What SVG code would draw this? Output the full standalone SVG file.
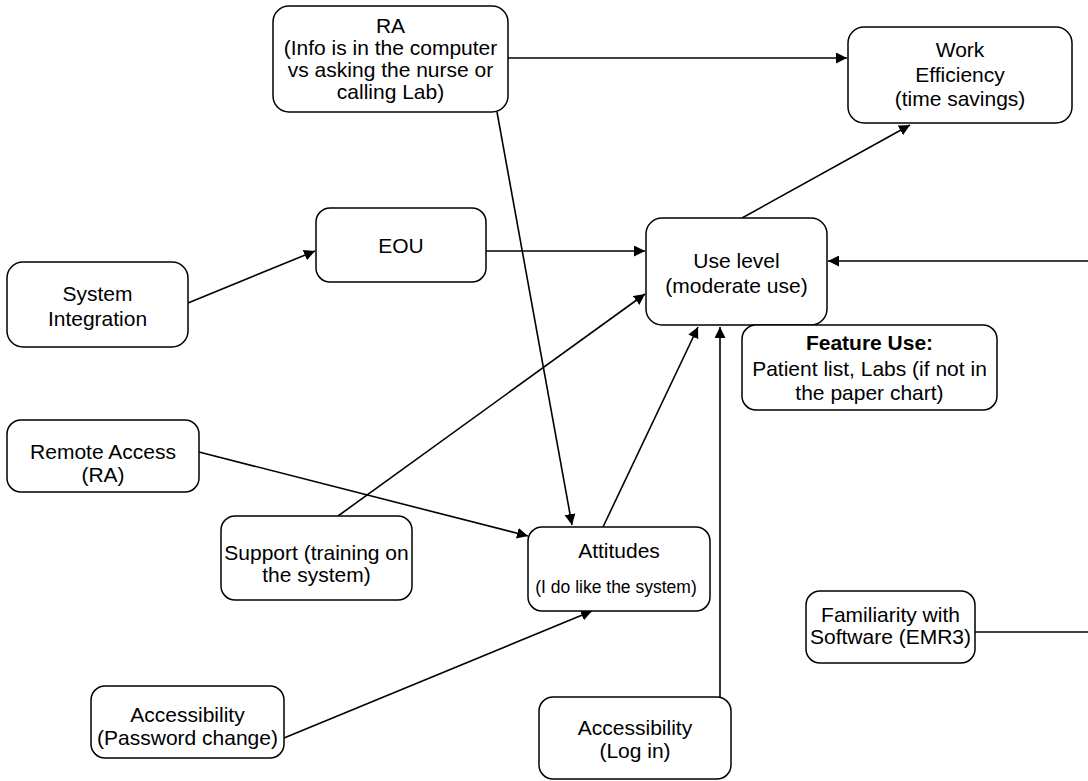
<svg xmlns="http://www.w3.org/2000/svg" width="1088" height="781" viewBox="0 0 1088 781">
<style>
  .box { fill: #ffffff; stroke: #000000; stroke-width: 1.5; }
  .t { font-family: "Liberation Sans", Arial, sans-serif; font-size: 21px; fill: #000000; text-anchor: middle; }
  .s { font-size: 17.5px; }
  .b { font-weight: bold; }
  .c { fill: none; stroke: #000000; stroke-width: 1.6; }
</style>
<defs>
  <marker id="arr" viewBox="0 0 10 10" refX="10" refY="5" markerWidth="11" markerHeight="11" markerUnits="userSpaceOnUse" orient="auto">
    <path d="M0,0 L10,5 L0,10 z" fill="#000000"/>
  </marker>
</defs>
<rect width="1088" height="781" fill="#ffffff"/>

<g id="connectors">
  <path class="c" d="M508,58 H847" marker-end="url(#arr)"/>
  <path class="c" d="M188,303 L315,251" marker-end="url(#arr)"/>
  <path class="c" d="M486,251 H645" marker-end="url(#arr)"/>
  <path class="c" d="M742,218 L910,125" marker-end="url(#arr)"/>
  <path class="c" d="M497,112 L572,525" marker-end="url(#arr)"/>
  <path class="c" d="M338,516 L645,294" marker-end="url(#arr)"/>
  <path class="c" d="M199,452 L528,536" marker-end="url(#arr)"/>
  <path class="c" d="M603,527 L698,327" marker-end="url(#arr)"/>
  <path class="c" d="M284,738 L592,611" marker-end="url(#arr)"/>
  <path class="c" d="M720,697 V327" marker-end="url(#arr)"/>
  <path class="c" d="M1088,261 H828" marker-end="url(#arr)"/>
  <path class="c" d="M975,632 H1088"/>
</g>

<g id="ra-info">
  <rect class="box" x="273" y="6" width="235" height="106" rx="16"/>
  <text class="t" x="390.5" y="33">RA</text>
  <text class="t" x="390.5" y="55">(Info is in the computer</text>
  <text class="t" x="390.5" y="77">vs asking the nurse or</text>
  <text class="t" x="390.5" y="99">calling Lab)</text>
</g>

<g id="work-efficiency">
  <rect class="box" x="848" y="27" width="224" height="96" rx="16"/>
  <text class="t" x="960" y="57">Work</text>
  <text class="t" x="960" y="82">Efficiency</text>
  <text class="t" x="960" y="106">(time savings)</text>
</g>

<g id="eou">
  <rect class="box" x="316" y="208" width="170" height="74" rx="14"/>
  <text class="t" x="401" y="253">EOU</text>
</g>

<g id="use-level">
  <rect class="box" x="646" y="218" width="181" height="107" rx="16"/>
  <text class="t" x="736.5" y="268">Use level</text>
  <text class="t" x="736.5" y="293">(moderate use)</text>
</g>

<g id="feature-use">
  <rect class="box" x="742" y="325" width="255" height="85" rx="14"/>
  <text class="t b" x="869.5" y="350">Feature Use:</text>
  <text class="t" x="869.5" y="376">Patient list, Labs (if not in</text>
  <text class="t" x="869.5" y="400">the paper chart)</text>
</g>

<g id="system-integration">
  <rect class="box" x="7" y="262" width="181" height="85" rx="16"/>
  <text class="t" x="97.5" y="301">System</text>
  <text class="t" x="97.5" y="326">Integration</text>
</g>

<g id="remote-access">
  <rect class="box" x="7" y="420" width="192" height="72" rx="14"/>
  <text class="t" x="103" y="459">Remote Access</text>
  <text class="t" x="103" y="482">(RA)</text>
</g>

<g id="support">
  <rect class="box" x="221" y="516" width="191" height="84" rx="14"/>
  <text class="t" x="316.5" y="560">Support (training on</text>
  <text class="t" x="316.5" y="582">the system)</text>
</g>

<g id="attitudes">
  <rect class="box" x="528" y="527" width="182" height="84" rx="14"/>
  <text class="t" x="619" y="558">Attitudes</text>
  <text class="t s" x="616" y="593">(I do like the system)</text>
</g>

<g id="accessibility-password">
  <rect class="box" x="91" y="686" width="193" height="72" rx="14"/>
  <text class="t" x="187.5" y="722">Accessibility</text>
  <text class="t" x="187.5" y="745">(Password change)</text>
</g>

<g id="accessibility-login">
  <rect class="box" x="539" y="697" width="192" height="82" rx="14"/>
  <text class="t" x="635" y="735">Accessibility</text>
  <text class="t" x="635" y="758">(Log in)</text>
</g>

<g id="familiarity">
  <rect class="box" x="806" y="591" width="169" height="72" rx="14"/>
  <text class="t" x="890.5" y="622">Familiarity with</text>
  <text class="t" x="890.5" y="644">Software (EMR3)</text>
</g>
</svg>
